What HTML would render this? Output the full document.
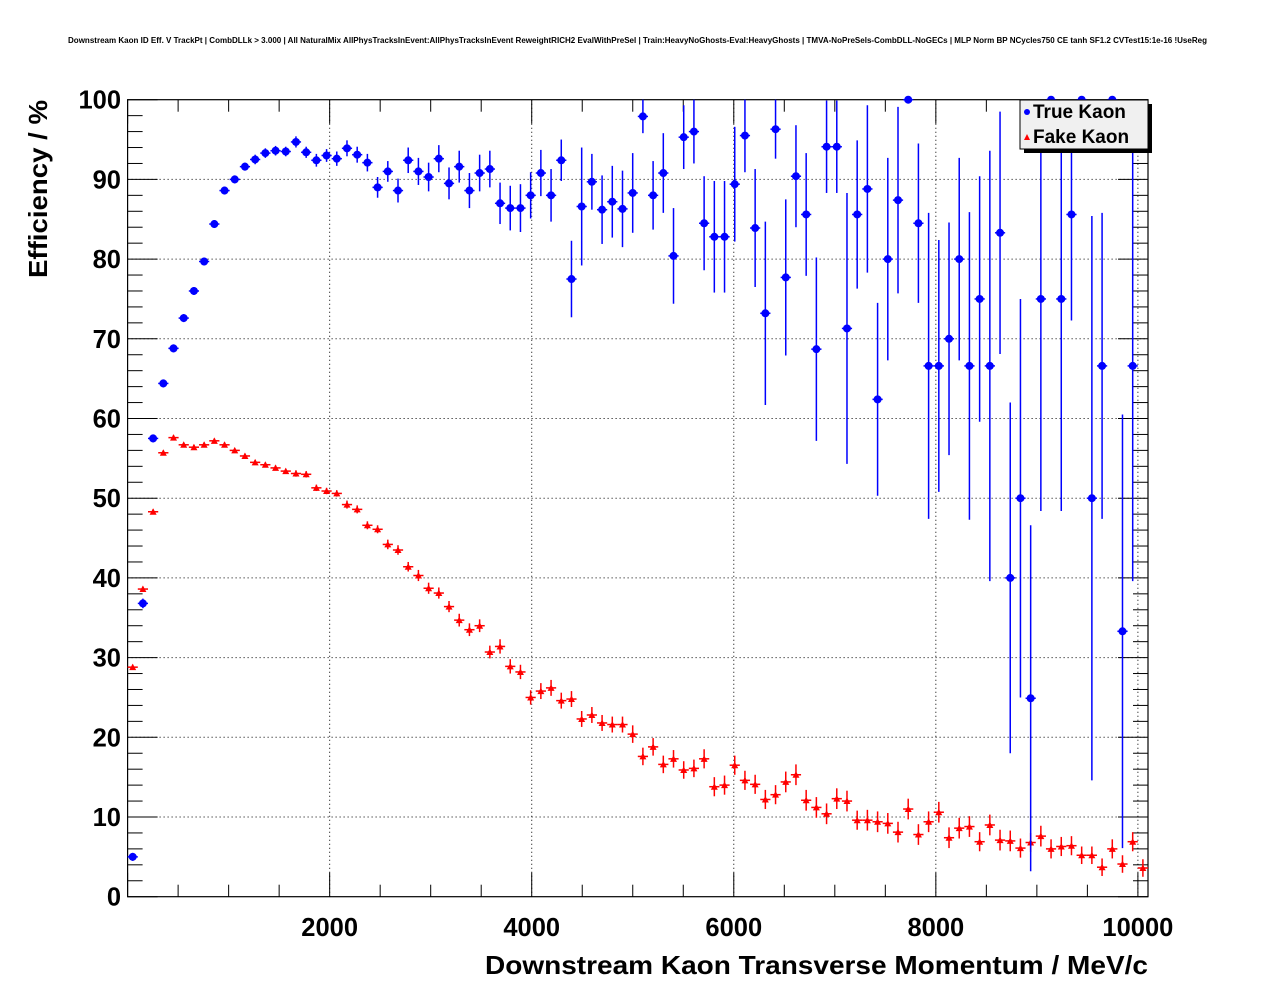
<!DOCTYPE html>
<html><head><meta charset="utf-8"><style>
html,body{margin:0;padding:0;background:#fff;}
svg{display:block;font-family:"Liberation Sans",Arial,sans-serif;}
</style></head><body>
<svg id="chart" width="1276" height="996" viewBox="0 0 1276 996" xmlns="http://www.w3.org/2000/svg">
<rect width="1276" height="996" fill="#fff"/>
<text x="68" y="43" font-size="8" font-weight="bold" textLength="1139" lengthAdjust="spacingAndGlyphs">Downstream Kaon ID Eff. V TrackPt | CombDLLk &gt; 3.000 | All NaturalMix AllPhysTracksInEvent:AllPhysTracksInEvent ReweightRICH2 EvalWithPreSel | Train:HeavyNoGhosts-Eval:HeavyGhosts | TMVA-NoPreSels-CombDLL-NoGECs | MLP Norm BP NCycles750 CE tanh SF1.2 CVTest15:1e-16 !UseReg</text>
<g id="grid"></g>
<g id="axes"></g>
<g id="fake"></g>
<g id="true"></g>
<text transform="translate(47,278) rotate(-90)" font-size="26" font-weight="bold" textLength="178" lengthAdjust="spacingAndGlyphs">Efficiency / %</text>
<text x="485" y="974" font-size="26" font-weight="bold" textLength="663" lengthAdjust="spacingAndGlyphs">Downstream Kaon Transverse Momentum / MeV/c</text>
<g>
<rect x="1024" y="104" width="128" height="49" fill="#000"/>
<rect x="1020" y="100" width="128" height="49" fill="#f0f0f0" stroke="#000" stroke-width="1"/>
<circle cx="1027" cy="112" r="3" fill="#0000ff"/>
<text x="1033" y="118" font-size="19" font-weight="bold">True Kaon</text>
<polygon points="1024,140 1030,140 1027,134" fill="#ff0000"/>
<text x="1033" y="143" font-size="19" font-weight="bold">Fake Kaon</text>
</g>
</svg>
<script>
const binWidth = 101;
const trueEff = [5.0,36.8,57.5,64.4,68.8,72.6,76.0,79.7,84.4,88.6,90.0,91.6,92.5,93.3,93.6,93.5,94.7,93.4,92.4,93.0,92.6,93.9,93.1,92.1,89.0,91.0,88.6,92.4,91.0,90.3,92.6,89.5,91.6,88.6,90.8,91.3,87.0,86.4,86.4,88.0,90.8,88.0,92.4,77.5,86.6,89.7,86.2,87.2,86.3,88.3,97.9,88.0,90.8,80.4,95.3,96.0,84.5,82.8,82.8,89.4,95.5,83.9,73.2,96.3,77.7,90.4,85.6,68.7,94.1,94.1,71.3,85.6,88.8,62.4,80.0,87.4,100,84.5,66.6,66.6,70.0,80.0,66.6,75.0,66.6,83.3,40.0,50.0,24.9,75.0,100,75.0,85.6,100,50.0,66.6,100,33.3,66.6,null];
const trueErr = [0.5,0.6,0.5,0.5,0.5,0.5,0.5,0.5,0.5,0.5,0.5,0.5,0.6,0.6,0.6,0.6,0.7,0.7,0.8,0.8,0.9,1.0,1.0,1.1,1.3,1.3,1.5,1.6,1.7,1.8,1.7,2.0,2.0,2.2,2.3,2.3,2.6,2.8,3.0,2.9,2.9,3.3,2.6,4.8,7.4,3.5,4.3,4.5,4.8,5.0,2.1,4.3,5.0,6.0,4.0,4.0,5.9,7.0,7.0,7.2,4.6,7.4,11.5,3.7,9.8,6.4,7.7,11.5,5.8,5.8,17.0,9.3,10.5,12.1,12.7,11.7,0,10.0,19.2,15.8,14.6,12.7,19.3,15.4,27.0,15.2,22.0,25.0,21.7,26.6,0,26.6,13.3,0,35.4,19.2,0,27.2,27.0,0];
const fakeEff = [28.8,38.6,48.3,55.7,57.6,56.7,56.4,56.7,57.2,56.7,56.0,55.3,54.5,54.2,53.8,53.4,53.1,53.0,51.3,50.9,50.6,49.2,48.6,46.6,46.1,44.2,43.5,41.4,40.3,38.7,38.1,36.4,34.7,33.5,34.0,30.7,31.4,28.9,28.2,25.0,25.8,26.2,24.6,24.8,22.3,22.8,21.8,21.6,21.6,20.4,17.6,18.8,16.6,17.3,15.9,16.1,17.3,13.8,14.0,16.5,14.6,14.1,12.2,12.8,14.4,15.3,12.1,11.2,10.4,12.3,12.0,9.6,9.6,9.4,9.2,8.1,11.0,7.8,9.4,10.6,7.4,8.6,8.8,6.9,9.0,7.1,7.0,6.1,6.8,7.6,6.0,6.3,6.4,5.2,5.2,3.7,6.0,4.1,6.9,3.6];
const fakeErr = [0.3,0.3,0.3,0.3,0.3,0.3,0.3,0.3,0.3,0.3,0.3,0.3,0.3,0.3,0.3,0.3,0.4,0.4,0.4,0.4,0.4,0.5,0.5,0.5,0.5,0.6,0.6,0.6,0.7,0.7,0.7,0.7,0.8,0.8,0.8,0.8,0.9,0.9,0.9,0.9,1.0,1.0,1.0,1.0,1.0,1.0,1.0,1.0,1.0,1.1,1.1,1.1,1.1,1.1,1.1,1.1,1.2,1.2,1.2,1.2,1.2,1.2,1.2,1.2,1.3,1.3,1.3,1.3,1.3,1.3,1.3,1.2,1.3,1.3,1.3,1.3,1.3,1.3,1.3,1.3,1.3,1.3,1.3,1.2,1.3,1.3,1.3,1.2,1.2,1.3,1.2,1.2,1.2,1.1,1.1,1.1,1.2,1.1,1.2,1.1];
const xTicks = [2000,4000,6000,8000,10000];
const yTicks = [0,10,20,30,40,50,60,70,80,90,100];

const NS='http://www.w3.org/2000/svg';
const L=127.6,R=1148,T=99.7,B=896.7,XMAX=10100,YMAX=100;
const sx=v=>L+v/XMAX*(R-L);
const sy=v=>B-v/YMAX*(B-T);
function mk(tag,attrs,parent){const e=document.createElementNS(NS,tag);for(const k in attrs)e.setAttribute(k,attrs[k]);parent.appendChild(e);return e;}
const grid=document.getElementById('grid'),axes=document.getElementById('axes');
xTicks.forEach(t=>{if(t<XMAX){const g=mk('line',{x1:sx(t),x2:sx(t),y1:T,y2:B,stroke:'#000','stroke-width':1,'stroke-dasharray':'1,3'},grid);

}});
yTicks.forEach(t=>{if(t>0&&t<YMAX){const g=mk('line',{x1:L,x2:R,y1:sy(t),y2:sy(t),stroke:'#000','stroke-width':1,'stroke-dasharray':'1,3'},grid);

}});
const frame=mk('rect',{x:L,y:T,width:R-L,height:B-T,fill:'none',stroke:'#000','stroke-width':1.2},axes);


for(let v=0;v<=XMAX;v+=500){const maj=v%2000===0;const len=maj?24:12;const x=sx(v);
mk('line',{x1:x,x2:x,y1:B,y2:B-len,stroke:'#000','stroke-width':1},axes);
mk('line',{x1:x,x2:x,y1:T,y2:T+len,stroke:'#000','stroke-width':1},axes);}
for(let v=0;v<=YMAX;v+=2){const maj=v%10===0;const len=maj?30:15;const y=sy(v);
mk('line',{x1:L,x2:L+len,y1:y,y2:y,stroke:'#000','stroke-width':1},axes);
mk('line',{x1:R,x2:R-len,y1:y,y2:y,stroke:'#000','stroke-width':1},axes);}
xTicks.forEach(t=>{const e=mk('text',{x:sx(t),y:936,'text-anchor':'middle','font-size':25.5,'font-weight':'bold'},axes);e.textContent=String(t);

});
yTicks.forEach(t=>{const e=mk('text',{x:121,y:sy(t)+9,'text-anchor':'end','font-size':25.5,'font-weight':'bold'},axes);e.textContent=String(t);

});
function series(vals,errs,color,gid,shape){const g=document.getElementById(gid);
vals.forEach((v,i)=>{if(v===null)return;const c=(i+0.5)*binWidth;const x=sx(c),y=sy(v);
const p=mk('g',{},g);


mk('line',{x1:sx(i*binWidth),x2:sx((i+1)*binWidth),y1:y,y2:y,stroke:color,'stroke-width':1.5},p);
const e=errs[i]||0;const y1=Math.max(T,sy(v+e)),y2=Math.min(B,sy(v-e));
if(e>0)mk('line',{x1:x,x2:x,y1:y1,y2:y2,stroke:color,'stroke-width':1.5},p);
if(shape==='circle')mk('circle',{cx:x,cy:y,r:4,fill:color},p);
else mk('polygon',{points:`${x-3.5},${y+3} ${x+3.5},${y+3} ${x},${y-3.5}`,fill:color},p);});}
series(fakeEff,fakeErr,'#ff0000','fake','tri');
series(trueEff,trueErr,'#0000ff','true','circle');
</script>
</body></html>
